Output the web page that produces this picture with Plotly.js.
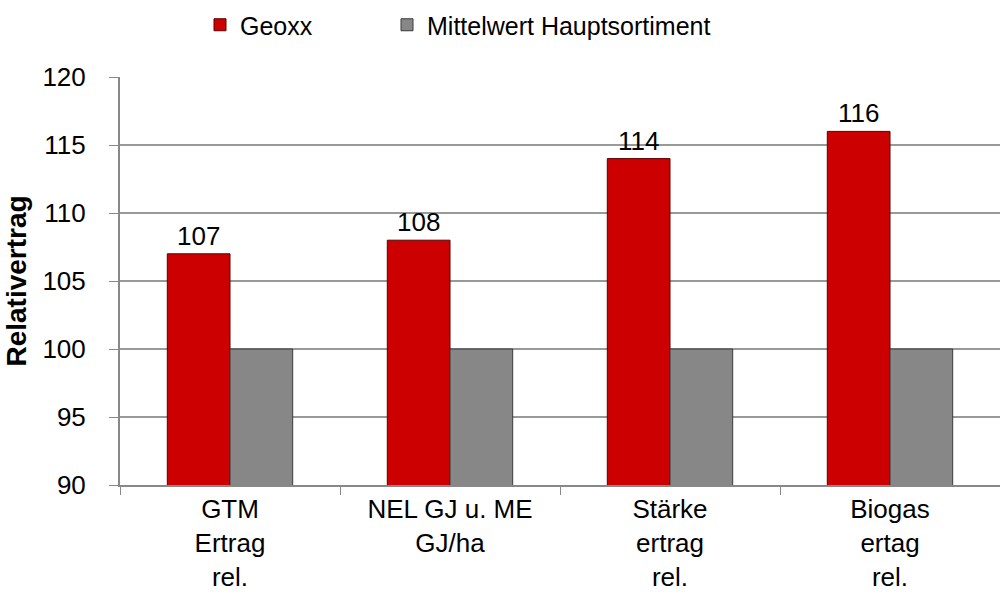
<!DOCTYPE html>
<html>
<head>
<meta charset="utf-8">
<script src="https://cdn.plot.ly/plotly-3.0.1.min.js"></script>
<style>html,body{margin:0;padding:0;background:#fff;}#chart{width:1000px;height:598px;}</style>
</head>
<body>
<div id="chart"></div>
<script>
const categories = ["GTM<br>Ertrag<br>rel.", "NEL GJ u. ME<br>GJ/ha", "Stärke<br>ertrag<br>rel.", "Biogas<br>ertag<br>rel."];
const geoxx = [107, 108, 114, 116];
const mittelwert = [100, 100, 100, 100];
const seriesNames = ["Geoxx", "Mittelwert Hauptsortiment"];
const yTicks = [90, 95, 100, 105, 110, 115, 120];

const font = "Liberation Sans, Arial, sans-serif";
const traces = [
  {
    type: "bar", name: seriesNames[0], x: categories, y: geoxx, legend: "legend",
    marker: {color: "#CC0000", line: {color: "#5a0000", width: 1}},
    text: geoxx.map(String), textposition: "outside", cliponaxis: false,
    textfont: {family: font, size: 26, color: "#000"}
  },
  {
    type: "bar", name: seriesNames[1], x: categories, y: mittelwert, legend: "legend2",
    marker: {color: "#878787", line: {color: "#3a3a3a", width: 1}}
  }
];
const legendBase = {orientation: "h", xref: "container", yref: "container",
  xanchor: "left", yanchor: "middle", y: 1 - 25/598, font: {family: font, size: 25, color: "#000"},
  bgcolor: "rgba(0,0,0,0)"};
const layout = {
  width: 1000, height: 598,
  margin: {l: 120, r: 0, t: 77, b: 113},
  paper_bgcolor: "#fff", plot_bgcolor: "#fff",
  font: {family: font, size: 26, color: "#000"},
  barmode: "group", bargap: 0.43, bargroupgap: 0,
  showlegend: true,
  legend: Object.assign({}, legendBase, {x: 0.2}),
  legend2: Object.assign({}, legendBase, {x: 0.387}),
  xaxis: {type: "category", tickson: "boundaries", ticks: "outside", ticklen: 8,
          tickcolor: "#888", showline: true, linecolor: "#888", linewidth: 2,
          tickfont: {family: font, size: 26}, showgrid: false},
  yaxis: {range: [90, 120], tickvals: yTicks, ticks: "outside", ticklen: 9, tickcolor: "#888",
          showline: true, linecolor: "#888", linewidth: 2, gridcolor: "#999", gridwidth: 1.5,
          zeroline: false, tickfont: {family: font, size: 26}, ticklabelstandoff: 18,
          title: {text: "<b>Relativertrag</b>", font: {family: font, size: 28}, standoff: 8}}
};
Plotly.newPlot("chart", traces, layout, {displayModeBar: false});
</script>
</body>
</html>
